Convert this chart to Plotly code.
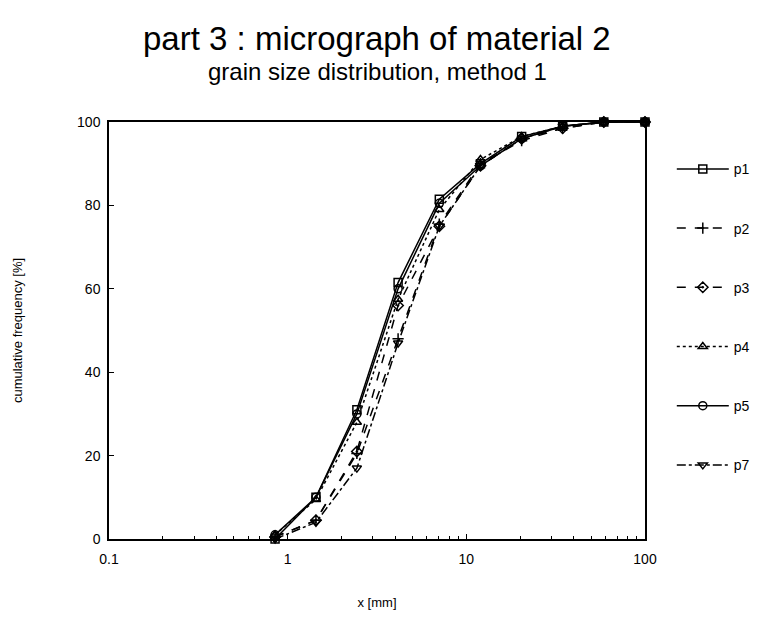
import plotly.graph_objects as go

# grain size classes [mm]
x_mm = [0.85, 1.44, 2.44, 4.15, 7.06, 12.0, 20.4, 34.6, 58.8, 100]

# cumulative frequency [%]
p1 = [0, 10, 31, 61.5, 81.5, 90, 96.5, 99, 100, 100]
p2 = [0.5, 4.5, 20.5, 48, 75.5, 90, 95.5, 98.5, 100, 100]
p3 = [0.5, 4.5, 21, 56, 75, 89.5, 96, 98.5, 100, 100]
p4 = [1, 9.5, 28, 57.5, 79, 91, 96.5, 99, 100, 100]
p5 = [1, 10, 30, 60, 80.5, 89.5, 96, 99, 100, 100]
p7 = [0, 4, 17, 47, 75, 89.5, 96, 99, 100, 100]

series_names = ["p1", "p2", "p3", "p4", "p5", "p7"]
series_vals = [p1, p2, p3, p4, p5, p7]
symbols = ["square-open", "cross-thin", "diamond-open-dot", "triangle-up-open", "circle-open", "triangle-down-open"]
dashes = ["solid", "dash", "dash", "dot", "solid", "dashdot"]

x_ticks = [0.1, 1, 10, 100]
x_tick_text = ["0.1", "1", "10", "100"]
y_ticks = [0, 20, 40, 60, 80, 100]

title_text = "part 3 : micrograph of material 2"
subtitle_text = "grain size distribution, method 1"

FONT = "Liberation Sans, Arial, sans-serif"

fig = go.Figure()
for name, vals, sym, dash in zip(series_names, series_vals, symbols, dashes):
    fig.add_trace(go.Scatter(
        x=x_mm, y=vals, name=name, mode="lines+markers",
        line=dict(color="black", width=1.5, dash=dash),
        marker=dict(symbol=sym, size=8, color="black", line=dict(color="black", width=1.5)),
        cliponaxis=False, legendgroup=name,
    ))

fig.update_layout(
    width=768, height=632,
    margin=dict(l=109, r=123, t=122, b=93),
    paper_bgcolor="white", plot_bgcolor="white",
    font=dict(family=FONT, color="black", size=13),
    showlegend=True,
    legend=dict(
        x=1.05, xanchor="left", y=0.925, yanchor="top",
        font=dict(family=FONT, size=14, color="black"),
        tracegroupgap=38, itemwidth=52, bgcolor="rgba(0,0,0,0)",
    ),
    annotations=[
        dict(text=title_text, xref="paper", yref="paper", x=0.5, y=1.20,
             xanchor="center", yanchor="middle", showarrow=False,
             font=dict(family=FONT, size=33, color="black")),
        dict(text=subtitle_text, xref="paper", yref="paper", x=0.5, y=1.12,
             xanchor="center", yanchor="middle", showarrow=False,
             font=dict(family=FONT, size=24, color="black")),
    ],
)

fig.update_xaxes(
    type="log", range=[-1, 2],
    tickvals=x_ticks, ticktext=x_tick_text,
    ticks="inside", ticklen=5, tickcolor="black",
    minor=dict(dtick="D1", ticks="inside", ticklen=3, tickcolor="black", showgrid=False),
    showline=True, linecolor="black", linewidth=1.5, mirror=True,
    showgrid=False, zeroline=False,
    tickfont=dict(size=14), ticklabelstandoff=6,
    title=dict(text="x [mm]", font=dict(size=13), standoff=32),
)
fig.update_yaxes(
    range=[0, 100], tickvals=y_ticks,
    ticks="inside", ticklen=5, tickcolor="black",
    showline=True, linecolor="black", linewidth=1.5, mirror=True,
    showgrid=False, zeroline=False,
    tickfont=dict(size=14), ticklabelstandoff=4,
    title=dict(text="cumulative frequency [%]", font=dict(size=13), standoff=52),
)

fig.write_html("out.html")
